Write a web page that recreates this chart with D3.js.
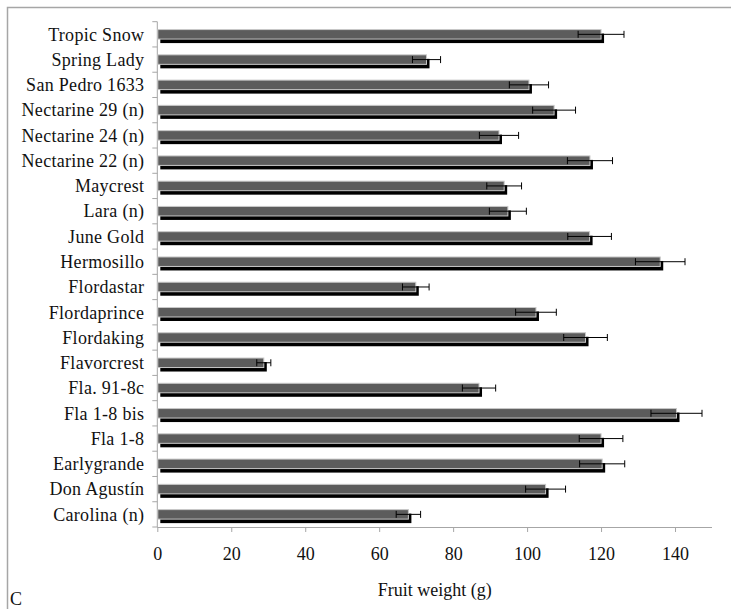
<!DOCTYPE html>
<html>
<head>
<meta charset="utf-8">
<script src="https://cdn.jsdelivr.net/npm/d3@7"></script>
<style>
  body { margin: 0; background: #fff; }
  svg text { font-family: "Liberation Serif", "Times New Roman", serif; fill: #111; }
</style>
</head>
<body>
<svg id="chart" width="731" height="609"></svg>
<script>
// cultivars, top to bottom as drawn
var cultivars = ["Tropic Snow", "Spring Lady", "San Pedro 1633", "Nectarine 29 (n)",
  "Nectarine 24 (n)", "Nectarine 22 (n)", "Maycrest", "Lara (n)", "June Gold",
  "Hermosillo", "Flordastar", "Flordaprince", "Flordaking", "Flavorcrest",
  "Fla. 91-8c", "Fla 1-8 bis", "Fla 1-8", "Earlygrande", "Don Agustín", "Carolina (n)"];
// mean fruit weight (g)
var weights = [120.0, 72.8, 100.5, 107.3, 92.4, 117.0, 93.8, 94.8, 116.9, 136.0,
  69.9, 102.4, 115.8, 28.8, 87.0, 140.4, 120.0, 120.3, 105.0, 67.9];
// error (+/-)
var errors = [6.2, 3.8, 5.3, 5.8, 5.3, 6.1, 4.7, 5.0, 5.9, 6.7,
  3.6, 5.5, 5.9, 1.9, 4.5, 6.9, 5.9, 6.1, 5.4, 3.3];
var xTicks = [0, 20, 40, 60, 80, 100, 120, 140];

function drawChart() {
  var data = cultivars.map(function(c, i) {
    return {name: c, value: weights[i], err: errors[i]};
  });

  var svg = d3.select("#chart");

  var m = {left: 157.3, right: 712, top: 21.7, bottom: 527};

  // outer frame
  svg.append("rect")
     .attr("x", 7.5).attr("y", 7.5)
     .attr("width", 760).attr("height", 640)
     .attr("fill", "none")
     .attr("stroke", "#a6a6a6")
     .attr("stroke-width", 1.5);

  var x = d3.scaleLinear().domain([0, 150]).range([m.left, m.right]);
  var y = d3.scaleBand().domain(cultivars).range([m.top, m.bottom]).padding(0);

  var barH = 9.5;
  var mid = function(d) { return y(d.name) + y.bandwidth() / 2; };

  // x axis
  var xAxis = svg.append("g")
     .attr("transform", "translate(0," + m.bottom + ")")
     .call(d3.axisBottom(x).tickValues(xTicks).tickSize(5).tickPadding(15).tickSizeOuter(0));
  xAxis.select(".domain").attr("stroke", "#a6a6a6").attr("d", "M" + m.left + ",0.5H" + m.right);
  xAxis.selectAll(".tick line").attr("stroke", "#a6a6a6");
  xAxis.selectAll(".tick text")
     .style("font-family", "Liberation Serif, serif")
     .style("font-size", "18px")
     .attr("fill", "#111");

  // y axis line + boundary ticks
  svg.append("line")
     .attr("x1", m.left).attr("x2", m.left)
     .attr("y1", m.top).attr("y2", m.bottom)
     .attr("stroke", "#a6a6a6");
  var bounds = cultivars.map(function(c) { return y(c); }).concat([m.bottom]);
  svg.selectAll(".ytick")
     .data(bounds)
     .enter().append("line")
     .attr("x1", m.left - 5).attr("x2", m.left)
     .attr("y1", function(d) { return d; })
     .attr("y2", function(d) { return d; })
     .attr("stroke", "#a6a6a6");

  // category labels
  svg.selectAll(".ylab")
     .data(data)
     .enter().append("text")
     .attr("x", m.left - 13)
     .attr("y", mid)
     .attr("dy", "0.35em")
     .attr("text-anchor", "end")
     .style("font-size", "18px")
     .style("letter-spacing", "0.3px")
     .text(function(d) { return d.name; });

  // shadow bars
  svg.selectAll(".shadow")
     .data(data)
     .enter().append("rect")
     .attr("x", x(0) + 3)
     .attr("y", function(d) { return mid(d) - barH / 2 + 4; })
     .attr("width", function(d) { return x(d.value) - x(0); })
     .attr("height", barH)
     .attr("fill", "#000");

  // bars
  svg.selectAll(".bar")
     .data(data)
     .enter().append("rect")
     .attr("x", x(0) + 0.5)
     .attr("y", function(d) { return mid(d) - barH / 2; })
     .attr("width", function(d) { return x(d.value) - x(0) - 0.5; })
     .attr("height", barH)
     .attr("fill", "#5c5c5c")
     .attr("stroke", "#c8c8c8")
     .attr("stroke-width", 1);

  // error bars
  var eb = svg.selectAll(".err")
     .data(data)
     .enter().append("g");
  eb.append("line")
     .attr("x1", function(d) { return x(d.value - d.err); })
     .attr("x2", function(d) { return x(d.value + d.err); })
     .attr("y1", mid)
     .attr("y2", mid)
     .attr("stroke", "#000");
  [-1, 1].forEach(function(s) {
    eb.append("line")
       .attr("x1", function(d) { return x(d.value + s * d.err); })
       .attr("x2", function(d) { return x(d.value + s * d.err); })
       .attr("y1", function(d) { return mid(d) - 3.5; })
       .attr("y2", function(d) { return mid(d) + 3.5; })
       .attr("stroke", "#000");
  });

  // axis title
  svg.append("text")
     .attr("x", (m.left + m.right) / 2)
     .attr("y", 596)
     .attr("text-anchor", "middle")
     .style("font-size", "18px")
     .text("Fruit weight (g)");

  // panel letter
  svg.append("text")
     .attr("x", 10)
     .attr("y", 605)
     .style("font-size", "18px")
     .text("C");
}

drawChart();
</script>
</body>
</html>
